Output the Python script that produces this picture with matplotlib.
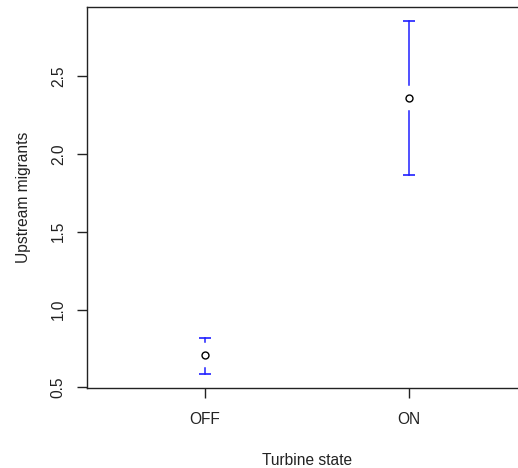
import numpy as np
import matplotlib
matplotlib.use("Agg")
import matplotlib.pyplot as plt

plt.rcParams['font.family'] = ['Liberation Sans', 'DejaVu Sans']

# group means with confidence limits (plotmeans style)
states = ["OFF", "ON"]
means = [0.711, 2.356]
lower = [0.587, 1.865]
upper = [0.818, 2.851]

x = np.arange(1, len(states) + 1)

fig = plt.figure(figsize=(5.18, 4.68), dpi=100)
# axes box runs off the right edge like the original
ax = fig.add_axes([86.7 / 518, 80 / 468, 440.3 / 518, 380.7 / 468])

# R style limits: range + 4%
ylo, yhi = min(lower), max(upper)
pad = 0.04 * (yhi - ylo)
ax.set_ylim(ylo - pad, yhi + pad)
ax.set_xlim(0.42, 2.58)

# gap around the mean point, ~13 px
px_per_unit = 380.7 / (yhi - ylo + 2 * pad)
gap = 13 / px_per_unit

blue = "#2020ff"
for xi, m, lo, hi in zip(x, means, lower, upper):
    if hi - m > gap:
        ax.plot([xi, xi], [m + gap, hi], color=blue, lw=1.1)
    if m - lo > gap:
        ax.plot([xi, xi], [lo, m - gap], color=blue, lw=1.1)
    ax.plot([xi, xi], [hi, lo], ls="none", marker="_", ms=9, mew=1.2, color=blue)

ax.plot(x, means, ls="none", marker="o", ms=5, mfc="white", mec="black", mew=1.0)

ax.set_xticks(x)
ax.set_xticklabels(states)
ax.set_yticks([0.5, 1.0, 1.5, 2.0, 2.5])
ax.set_yticklabels(["0.5", "1.0", "1.5", "2.0", "2.5"], rotation=90, va="center")

ax.tick_params(axis="both", length=7, width=1, labelsize=11.2,
               color="#222222", labelcolor="#222222")
ax.tick_params(axis="x", pad=10)
ax.tick_params(axis="y", pad=8)

for s in ax.spines.values():
    s.set_color("#222222")
    s.set_linewidth(1)

ax.set_xlabel("Turbine state", fontsize=11.2, labelpad=19, color="#222222")
ax.set_ylabel("Upstream migrants", fontsize=11.2, labelpad=14, color="#222222")

fig.savefig("out.png", dpi=100)
